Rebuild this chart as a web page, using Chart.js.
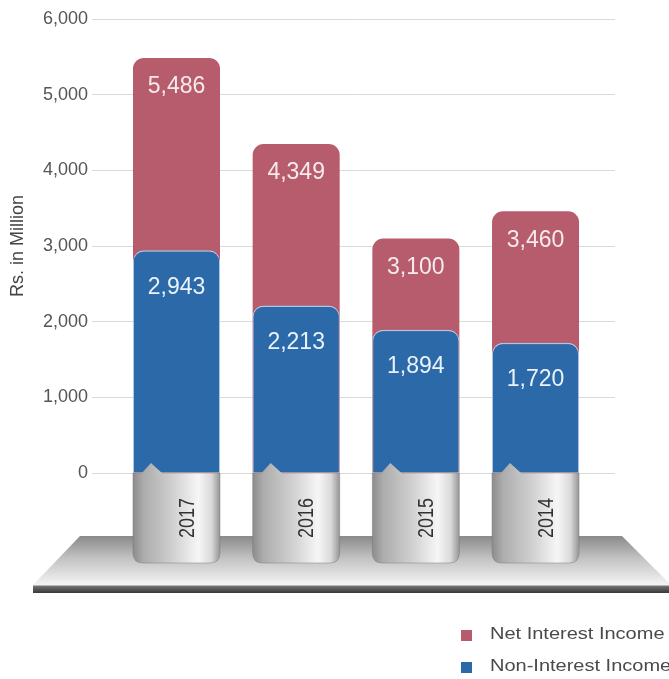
<!DOCTYPE html>
<html>
<head>
<meta charset="utf-8">
<script src="https://cdn.jsdelivr.net/npm/chart.js@4.4.1/dist/chart.umd.min.js"></script>
<style>
  html, body { margin: 0; padding: 0; background: #ffffff; }
  #wrap { width: 669px; height: 679px; }
</style>
</head>
<body>
<div id="wrap"><canvas id="income" width="669" height="679"></canvas></div>
<script>
// Income by year (Rs. in Million)
const years = ['2017', '2016', '2015', '2014'];
const netInterestIncome = [5486, 4349, 3100, 3460];
const nonInterestIncome = [2943, 2213, 1894, 1720];
const seriesNames = ['Net Interest Income', 'Non-Interest Income'];
const yTickValues = [0, 1000, 2000, 3000, 4000, 5000, 6000];
const axisTitle = 'Rs. in Million';

const RED = '#b75c6c';
const BLUE = '#2b69a8';
const FONT = '"Liberation Sans", Arial, sans-serif';

const fmt = v => v.toLocaleString('en-US');

// Grey 3D platform plus the cylindrical base under every bar
const basePlugin = {
  id: 'basePlugin',
  beforeDatasetsDraw(chart) {
    const { ctx, chartArea, scales } = chart;
    const zero = scales.y.getPixelForValue(0);
    const meta = chart.getDatasetMeta(0);

    // platform slab
    const top = zero + 63, bot = zero + 112, edge = zero + 120;
    const lt = chartArea.left - 12, lb = chartArea.left - 59;
    const rt = chartArea.right + 7, rb = chartArea.right + 56;
    ctx.save();
    let g = ctx.createLinearGradient(0, top, 0, bot);
    g.addColorStop(0, '#8a8a8a');
    g.addColorStop(0.45, '#c2c2c2');
    g.addColorStop(1, '#f4f4f4');
    ctx.fillStyle = g;
    ctx.beginPath();
    ctx.moveTo(lt, top); ctx.lineTo(rt, top); ctx.lineTo(rb, bot); ctx.lineTo(lb, bot);
    ctx.closePath();
    ctx.fill();
    g = ctx.createLinearGradient(0, bot, 0, edge);
    g.addColorStop(0, '#d8d8d8');
    g.addColorStop(0.2, '#6a6a6a');
    g.addColorStop(1, '#3a3a3a');
    ctx.fillStyle = g;
    ctx.fillRect(lb, bot, rb - lb, edge - bot);

    // cylinders
    meta.data.forEach(bar => {
      const half = bar.width / 2;
      const x0 = bar.x - half, x1 = bar.x + half;
      const y0 = zero, y1 = zero + 90, r = 10;
      const cg = ctx.createLinearGradient(x0, 0, x1, 0);
      cg.addColorStop(0, '#8c8c8c');
      cg.addColorStop(0.12, '#acacac');
      cg.addColorStop(0.45, '#cfcfcf');
      cg.addColorStop(0.75, '#f6f6f6');
      cg.addColorStop(0.9, '#dadada');
      cg.addColorStop(1, '#959595');
      ctx.fillStyle = cg;
      ctx.beginPath();
      ctx.moveTo(x0, y0);
      ctx.lineTo(x1, y0);
      ctx.lineTo(x1, y1 - r);
      ctx.quadraticCurveTo(x1, y1, x1 - r, y1);
      ctx.lineTo(x0 + r, y1);
      ctx.quadraticCurveTo(x0, y1, x0, y1 - r);
      ctx.closePath();
      ctx.fill();
      ctx.strokeStyle = 'rgba(120,120,120,0.45)';
      ctx.lineWidth = 1;
      ctx.stroke();
    });
    ctx.restore();
  },
  afterDatasetsDraw(chart) {
    const { ctx, scales } = chart;
    const zero = scales.y.getPixelForValue(0);
    const meta = chart.getDatasetMeta(0);
    ctx.save();
    meta.data.forEach((bar, i) => {
      const half = bar.width / 2;
      const x0 = bar.x - half;
      // small peak where the cap meets the bar
      const tg = ctx.createLinearGradient(x0, 0, x0 + 40, 0);
      tg.addColorStop(0, '#9a9a9a');
      tg.addColorStop(1, '#d6d6d6');
      ctx.fillStyle = tg;
      ctx.beginPath();
      ctx.moveTo(x0 + 8, zero + 1);
      ctx.lineTo(x0 + 18, zero - 10);
      ctx.lineTo(x0 + 30, zero + 1);
      ctx.closePath();
      ctx.fill();

      // year label, rotated
      ctx.save();
      ctx.translate(bar.x + 11, zero + 45);
      ctx.scale(1.25, 1);
      ctx.rotate(-Math.PI / 2);
      ctx.font = '18px ' + FONT;
      ctx.fillStyle = '#333333';
      ctx.textAlign = 'center';
      ctx.textBaseline = 'middle';
      ctx.fillText(years[i], 0, 0);
      ctx.restore();
    });
    ctx.restore();
  }
};

// White value labels near the top of each bar
const valueLabels = {
  id: 'valueLabels',
  afterDatasetsDraw(chart) {
    const { ctx } = chart;
    ctx.save();
    ctx.font = '23px ' + FONT;
    ctx.textAlign = 'center';
    ctx.textBaseline = 'middle';
    chart.data.datasets.forEach((ds, di) => {
      const meta = chart.getDatasetMeta(di);
      meta.data.forEach((bar, i) => {
        ctx.fillStyle = ds.labelColor;
        ctx.fillText(fmt(ds.data[i].y), bar.x, bar.y + ds.labelOffset);
      });
    });
    ctx.restore();
  }
};

// Stacked legend at the lower right
const sideLegend = {
  id: 'sideLegend',
  afterDraw(chart) {
    const { ctx } = chart;
    ctx.save();
    ctx.font = '16px ' + FONT;
    ctx.textBaseline = 'middle';
    chart.data.datasets.forEach((ds, i) => {
      const y = 635 + i * 32;
      ctx.fillStyle = ds.backgroundColor;
      ctx.fillRect(461, y - 5, 11, 11);
      ctx.fillStyle = '#4a4a4a';
      ctx.save();
      ctx.translate(490, y);
      ctx.scale(1.25, 1);
      ctx.fillText(ds.label, 0, 0);
      ctx.restore();
    });
    ctx.restore();
  }
};

new Chart(document.getElementById('income'), {
  type: 'bar',
  data: {
    datasets: [
      {
        label: seriesNames[0],
        data: netInterestIncome.map((v, i) => ({ x: i, y: v })),
        backgroundColor: RED,
        borderWidth: 0,
        borderRadius: { topLeft: 11, topRight: 11, bottomLeft: 0, bottomRight: 0 },
        borderSkipped: 'bottom',
        order: 1,
        labelColor: '#f7eaed',
        labelOffset: 29
      },
      {
        label: seriesNames[1],
        data: nonInterestIncome.map((v, i) => ({ x: i, y: v })),
        backgroundColor: BLUE,
        borderColor: '#a9c9e9',
        borderWidth: { top: 1.5, left: 1, right: 1, bottom: 0 },
        borderRadius: { topLeft: 11, topRight: 11, bottomLeft: 0, bottomRight: 0 },
        borderSkipped: 'bottom',
        order: 0,
        labelColor: '#eaf2fb',
        labelOffset: 37
      }
    ]
  },
  options: {
    responsive: false,
    animation: false,
    devicePixelRatio: 1,
    layout: { padding: { top: 19, right: 54, bottom: 206, left: 0 } },
    datasets: { bar: { grouped: false, categoryPercentage: 1, barPercentage: 0.727 } },
    plugins: {
      legend: { display: false },
      tooltip: { enabled: false }
    },
    scales: {
      x: {
        type: 'linear',
        offset: false,
        min: -0.706,
        max: 3.664,
        display: false,
        afterBuildTicks(scale) { scale.ticks = years.map((_, i) => ({ value: i })); }
      },
      y: {
        min: yTickValues[0],
        max: yTickValues[yTickValues.length - 1],
        afterBuildTicks(scale) { scale.ticks = yTickValues.map(v => ({ value: v })); },
        ticks: {
          padding: 4,
          color: '#555555',
          font: { family: FONT, size: 18 },
          callback: v => fmt(v)
        },
        grid: { color: '#dadada', lineWidth: 1, drawTicks: false },
        border: { display: false },
        title: {
          display: true,
          text: axisTitle,
          color: '#444444',
          font: { family: FONT, size: 18 },
          padding: { top: 7, bottom: 0 }
        },
        afterFit(scale) { scale.width = 92; }
      }
    }
  },
  plugins: [basePlugin, valueLabels, sideLegend]
});
</script>
</body>
</html>
